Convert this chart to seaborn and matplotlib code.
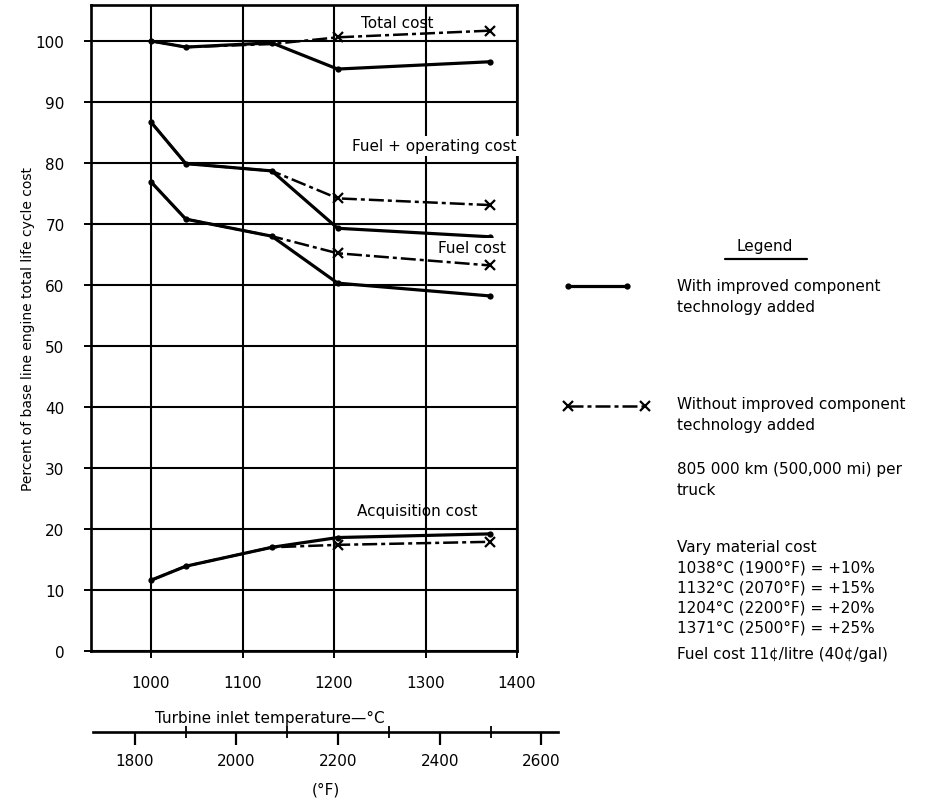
import matplotlib
matplotlib.use("Agg")
import matplotlib.pyplot as plt
import seaborn as sns
import pandas as pd
from matplotlib.lines import Line2D

# ---------------- data ----------------
temps_c = [1000, 1038, 1132, 1204, 1371]

total_with = [100.0, 99.0, 99.7, 95.4, 96.6]
total_without = [100.0, 99.0, 99.5, 100.6, 101.7]
fuelop_with = [86.7, 79.9, 78.7, 69.3, 67.9]
fuelop_without = [86.7, 79.9, 78.7, 74.2, 73.1]
fuel_with = [76.9, 70.8, 68.0, 60.3, 58.2]
fuel_without = [76.9, 70.8, 68.0, 65.2, 63.2]
acq_with = [11.6, 13.9, 17.0, 18.6, 19.2]
acq_without = [11.6, 13.9, 17.0, 17.4, 17.9]

x_ticks_c = [1000, 1100, 1200, 1300, 1400]
y_ticks = list(range(0, 101, 10))
f_major = [1800, 2000, 2200, 2400, 2600]
f_minor = [1900, 2100, 2300, 2500]

curve_labels = ["Total cost", "Fuel + operating cost", "Fuel cost", "Acquisition cost"]
curve_label_x = [1269, 1310, 1351, 1291]
curve_label_y = [103.1, 82.8, 66.2, 23.1]

legend_with = ["With improved component", "technology added"]
legend_without = ["Without improved component", "technology added"]
notes = ["805 000 km (500,000 mi) per", "truck",
         "Vary material cost",
         "1038°C (1900°F) = +10%",
         "1132°C (2070°F) = +15%",
         "1204°C (2200°F) = +20%",
         "1371°C (2500°F) = +25%",
         "Fuel cost 11¢/litre (40¢/gal)"]

# ---------------- style ----------------
sns.set_theme(style="white")
plt.rcParams['font.family'] = ['DejaVu Sans']
plt.rcParams.update({"text.color": "black", "axes.labelcolor": "black",
                     "xtick.color": "black", "ytick.color": "black",
                     "xtick.bottom": True, "ytick.left": True})

W, H = 932, 804
fig = plt.figure(figsize=(W / 100, H / 100), dpi=100)

def fx(px):
    return px / W

def fy(py):
    return 1 - py / H

# main axes
mx0, mx1, my0, my1 = 91, 517, 6, 652
ax = fig.add_axes([fx(mx0), fy(my1), (mx1 - mx0) / W, (my1 - my0) / H])
xlim = (934.4, 1400)
ylim = (0, 105.9)

df = pd.DataFrame({"temp": temps_c * 8,
                   "pct": (total_with + total_without + fuelop_with + fuelop_without
                           + fuel_with + fuel_without + acq_with + acq_without),
                   "series": sum([[s] * len(temps_c) for s in
                                  ["tw", "two", "fw", "fwo", "uw", "uwo", "aw", "awo"]], [])})

dash_style = (0, (6, 1.6, 1.6, 1.6))
for s in ["two", "fwo", "uwo", "awo"]:
    sns.lineplot(data=df[df.series == s], x="temp", y="pct", ax=ax, color="black",
                 lw=1.8, linestyle=dash_style, marker="x", markersize=7,
                 markeredgewidth=1.6, markeredgecolor="black", markevery=[3, 4],
                 zorder=3, sort=True)
for s in ["tw", "fw", "uw", "aw"]:
    sns.lineplot(data=df[df.series == s], x="temp", y="pct", ax=ax, color="black",
                 lw=2.3, marker="o", markersize=4.5, markeredgewidth=0,
                 markerfacecolor="black", zorder=4, sort=True)

ax.set_xlim(*xlim)
ax.set_ylim(*ylim)
ax.set_xticks(x_ticks_c)
ax.set_yticks(y_ticks)
ax.grid(True, color="black", lw=1.5)
ax.set_axisbelow(True)
for sp in ax.spines.values():
    sp.set_color("black")
    sp.set_linewidth(1.9)
    sp.set_visible(True)
ax.tick_params(axis="both", direction="inout", length=10, width=1.4, colors="black",
               labelsize=11, bottom=True, left=True)
ax.tick_params(axis="x", pad=12)
ax.tick_params(axis="y", pad=14)
ax.set_ylabel("Percent of base line engine total life cycle cost", fontsize=10,
              color="black")
ax.yaxis.set_label_coords((35 - mx0) / (mx1 - mx0), 0.5)
ax.set_xlabel("Turbine inlet temperature—°C", fontsize=11, color="black")
ax.xaxis.set_label_coords((270 - mx0) / (mx1 - mx0), (my1 - 711) / (my1 - my0))

for i, (t, x, y) in enumerate(zip(curve_labels, curve_label_x, curve_label_y)):
    kw = {}
    if i in (1, 2):
        kw["bbox"] = dict(facecolor="white", edgecolor="none", pad=1.5)
    ax.text(x, y, t, ha="center", va="center", fontsize=11, color="black",
            zorder=6, clip_on=False, **kw)

# Fahrenheit axis
fx0, fx1, fyy = 93, 558, 733
axf = fig.add_axes([fx(fx0), fy(fyy), (fx1 - fx0) / W, 0.0001])
c_left = xlim[0] + (fx0 - mx0) / (mx1 - mx0) * (xlim[1] - xlim[0])
c_right = xlim[0] + (fx1 - mx0) / (mx1 - mx0) * (xlim[1] - xlim[0])
axf.set_xlim(c_left * 9 / 5 + 32, c_right * 9 / 5 + 32)
axf.set_facecolor("none")
for k in ["top", "left", "right"]:
    axf.spines[k].set_visible(False)
axf.spines["bottom"].set_color("black")
axf.spines["bottom"].set_linewidth(1.9)
axf.set_yticks([])
axf.set_xticks(f_major)
axf.set_xticks(f_minor, minor=True)
axf.tick_params(axis="x", which="major", direction="out", length=9, width=1.6,
                colors="black", labelsize=11, pad=6, bottom=True)
axf.tick_params(axis="x", which="minor", direction="inout", length=8, width=1.3,
                colors="black", bottom=True)
axf.set_xlabel("(°F)", fontsize=11, labelpad=10, color="black")

# legend area
fig.text(fx(765), fy(247), "Legend", ha="center", va="center", fontsize=11, color="black")
fig.add_artist(Line2D([fx(725), fx(807)], [fy(260), fy(260)], color="black", lw=1.6))
fig.add_artist(Line2D([fx(568), fx(627)], [fy(287), fy(287)], color="black", lw=2.3,
                      marker="o", markersize=4.5, markeredgewidth=0))
fig.add_artist(Line2D([fx(568), fx(645)], [fy(407), fy(407)], color="black", lw=1.8,
                      linestyle=dash_style, marker="x", markersize=7, markeredgewidth=1.6))

tx = fx(677)
fs = 11
for line, py in zip(legend_with, [287, 308]):
    fig.text(tx, fy(py), line, ha="left", va="center", fontsize=fs, color="black")
for line, py in zip(legend_without, [405, 426]):
    fig.text(tx, fy(py), line, ha="left", va="center", fontsize=fs, color="black")
for line, py in zip(notes, [470, 491, 548, 568, 588, 608, 628, 655]):
    fig.text(tx, fy(py), line, ha="left", va="center", fontsize=fs, color="black")

fig.savefig("out.png", dpi=100, facecolor="white")
